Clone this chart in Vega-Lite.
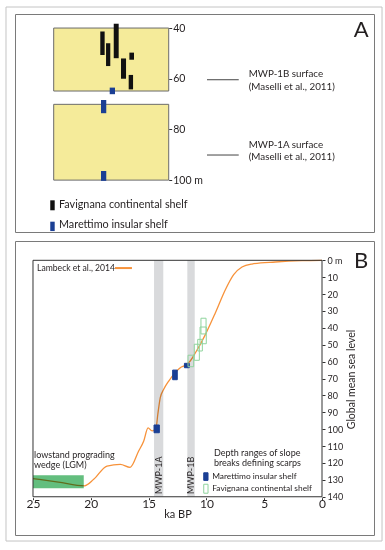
{
  "$schema": "https://vega.github.io/schema/vega-lite/v6.json",
  "background": "white",
  "padding": {"left": 4, "top": 6, "right": 0, "bottom": 0},
  "bounds": "flush",
  "spacing": 9,
  "config": {
    "view": {"stroke": "#7a7a7a", "strokeWidth": 1},
    "font": "Lato",
    "axis": {"grid": false, "labelFont": "Lato", "titleFont": "Lato", "labelColor": "#231f20", "titleColor": "#231f20", "tickColor": "#333333"}
  },
  "datasets": {
    "frame": [{"pos": -4.148, "pos2": 28.548, "depth": 31.7, "depth2": 242.39}],
    "boxesA": [
      {"pos": 0, "pos2": 10, "depth": 40, "depth2": 64.85},
      {"pos": 0, "pos2": 10, "depth": 70.1, "depth2": 100}
    ],
    "scarpsA": [
      {"shelf": "Favignana continental shelf", "pos": 4.05, "pos2": 4.43, "depth": 41.4, "depth2": 50.6},
      {"shelf": "Favignana continental shelf", "pos": 4.55, "pos2": 4.92, "depth": 46.0, "depth2": 55.0},
      {"shelf": "Favignana continental shelf", "pos": 5.22, "pos2": 5.65, "depth": 38.3, "depth2": 51.9},
      {"shelf": "Favignana continental shelf", "pos": 5.85, "pos2": 6.29, "depth": 52.0, "depth2": 60.0},
      {"shelf": "Favignana continental shelf", "pos": 6.58, "pos2": 6.98, "depth": 49.7, "depth2": 52.5},
      {"shelf": "Favignana continental shelf", "pos": 6.52, "pos2": 6.9, "depth": 58.5, "depth2": 64.2},
      {"shelf": "Marettimo insular shelf", "pos": 4.87, "pos2": 5.33, "depth": 63.5, "depth2": 66.1},
      {"shelf": "Marettimo insular shelf", "pos": 4.11, "pos2": 4.57, "depth": 68.4, "depth2": 73.6},
      {"shelf": "Marettimo insular shelf", "pos": 4.11, "pos2": 4.57, "depth": 96.4, "depth2": 100.3}
    ],
    "legendA": [
      {"shelf": "Favignana continental shelf", "pos": -0.3, "pos2": 0.087, "depth": 107.97, "depth2": 111.9, "lpos": 0.46, "ldepth": 109.8},
      {"shelf": "Marettimo insular shelf", "pos": -0.3, "pos2": 0.087, "depth": 116.4, "depth2": 120.1, "lpos": 0.46, "ldepth": 117.7}
    ],
    "surfacesA": [
      {"name": "MWP-1B", "pos": 13.33, "pos2": 16.09, "depth": 60.4},
      {"name": "MWP-1A", "pos": 13.33, "pos2": 16.09, "depth": 90.1}
    ],
    "notesA": [
      {"text": "MWP-1B surface", "pos": 16.96, "depth": 58.13},
      {"text": "(Maselli et al., 2011)", "pos": 16.96, "depth": 63.26},
      {"text": "MWP-1A surface", "pos": 16.96, "depth": 86.15},
      {"text": "(Maselli et al., 2011)", "pos": 16.96, "depth": 91.0}
    ],
    "letterA": [{"text": "A", "pos": 26.09, "depth": 43.53}],
    "bands": [
      {"label": "MWP-1A", "ka": 14.53, "ka2": 13.73, "depth": 0, "depth2": 140, "lka": 14.1, "ldepth": 138.4},
      {"label": "MWP-1B", "ka": 11.65, "ka2": 11.01, "depth": 0, "depth2": 140, "lka": 11.29, "ldepth": 138.4}
    ],
    "lambeck": [
      {"ka": 25.0, "depth": 129.2}, {"ka": 22.8, "depth": 131.3}, {"ka": 20.55, "depth": 133.5},
      {"ka": 19.75, "depth": 129.7}, {"ka": 18.6, "depth": 121.8}, {"ka": 17.45, "depth": 120.8},
      {"ka": 16.6, "depth": 122.6}, {"ka": 15.86, "depth": 112.9}, {"ka": 15.42, "depth": 107.0},
      {"ka": 15.05, "depth": 99.2}, {"ka": 14.7, "depth": 101.0}, {"ka": 14.35, "depth": 99.0},
      {"ka": 14.2, "depth": 91.0}, {"ka": 13.99, "depth": 81.3}, {"ka": 13.69, "depth": 76.4},
      {"ka": 13.26, "depth": 71.5}, {"ka": 12.69, "depth": 66.5}, {"ka": 12.26, "depth": 63.6},
      {"ka": 11.83, "depth": 62.2}, {"ka": 11.4, "depth": 59.6}, {"ka": 10.96, "depth": 54.9},
      {"ka": 10.09, "depth": 44.0}, {"ka": 9.23, "depth": 31.2}, {"ka": 8.36, "depth": 17.4},
      {"ka": 7.64, "depth": 8.5}, {"ka": 6.92, "depth": 4.0}, {"ka": 6.06, "depth": 2.2},
      {"ka": 4.04, "depth": 1.0}, {"ka": 1.73, "depth": 0.2}, {"ka": 0.0, "depth": 0.0}
    ],
    "wedge": [{"ka": 25, "ka2": 20.61, "depth": 127.3, "depth2": 135.0}],
    "scarpsB": [
      {"shelf": "Marettimo insular shelf", "ka": 14.53, "ka2": 14.07, "depth": 97.5, "depth2": 102.1},
      {"shelf": "Marettimo insular shelf", "ka": 12.92, "ka2": 12.52, "depth": 65.0, "depth2": 70.7},
      {"shelf": "Marettimo insular shelf", "ka": 11.9, "ka2": 11.48, "depth": 61.0, "depth2": 63.6},
      {"shelf": "Favignana continental shelf", "ka": 10.47, "ka2": 10.03, "depth": 34.3, "depth2": 43.6},
      {"shelf": "Favignana continental shelf", "ka": 10.55, "ka2": 10.01, "depth": 39.5, "depth2": 49.4},
      {"shelf": "Favignana continental shelf", "ka": 10.75, "ka2": 10.35, "depth": 46.8, "depth2": 53.7},
      {"shelf": "Favignana continental shelf", "ka": 11.05, "ka2": 10.61, "depth": 49.7, "depth2": 59.2},
      {"shelf": "Favignana continental shelf", "ka": 11.59, "ka2": 11.1, "depth": 56.2, "depth2": 63.0}
    ],
    "plotB": [{"ka": 25, "ka2": 0, "depth": 0, "depth2": 140}],
    "legendB": [
      {"shelf": "Marettimo insular shelf", "ka": 10.23, "ka2": 9.86, "depth": 125.8, "depth2": 130.3, "lka": 9.5, "ldepth": 127.7},
      {"shelf": "Favignana continental shelf", "ka": 10.23, "ka2": 9.86, "depth": 132.6, "depth2": 137.9, "lka": 9.5, "ldepth": 135.0}
    ],
    "lambeckKey": [{"text": "Lambeck et al., 2014", "ka": 24.65, "depth": 4.6, "lineStart": 17.91, "lineEnd": 16.44}],
    "notesB": [
      {"text": "lowstand prograding", "ka": 24.91, "depth": 115.3},
      {"text": "wedge (LGM)", "ka": 24.91, "depth": 121.4},
      {"text": "Depth ranges of slope", "ka": 9.35, "depth": 113.9},
      {"text": "breaks defining scarps", "ka": 9.35, "depth": 120.2}
    ],
    "letterB": [{"text": "B", "ka": -2.77, "depth": 4.4}]
  },
  "vconcat": [
    {
      "width": 359,
      "height": 218,
      "encoding": {
        "x": {"field": "pos", "type": "quantitative", "scale": {"domain": [-3.365, 27.85], "nice": false, "zero": false}, "axis": null},
        "y": {"field": "depth", "type": "quantitative", "scale": {"domain": [34.46, 120.47], "reverse": true, "nice": false, "zero": false},
          "axis": {"orient": "right", "offset": -205.3, "values": [40, 60, 80, 100], "labelExpr": "datum.value == 100 ? '100 m' : datum.label", "domain": false, "tickSize": 3, "labelPadding": 1, "labelFontSize": 10.5, "title": null}}
      },
      "layer": [
        {"data": {"name": "frame"}, "mark": {"type": "rect", "fill": null, "stroke": "#c4c4c4", "strokeWidth": 1}, "encoding": {"x2": {"field": "pos2"}, "y2": {"field": "depth2"}}},
        {"data": {"name": "boxesA"}, "mark": {"type": "rect", "fill": "#f5eb9a", "stroke": "#6b6b6b", "strokeWidth": 1}, "encoding": {"x2": {"field": "pos2"}, "y2": {"field": "depth2"}}},
        {"data": {"name": "scarpsA"}, "mark": {"type": "rect"}, "encoding": {"x2": {"field": "pos2"}, "y2": {"field": "depth2"},
          "color": {"field": "shelf", "type": "nominal", "scale": {"domain": ["Favignana continental shelf", "Marettimo insular shelf"], "range": ["#111111", "#1b3f94"]}, "legend": null}}},
        {"data": {"name": "surfacesA"}, "mark": {"type": "rule", "stroke": "#444444", "strokeWidth": 1}, "encoding": {"x2": {"field": "pos2"}}},
        {"data": {"name": "notesA"}, "mark": {"type": "text", "align": "left", "baseline": "middle", "fontSize": 9.8, "color": "#231f20"}, "encoding": {"text": {"field": "text"}}},
        {"data": {"name": "legendA"}, "mark": {"type": "rect"}, "encoding": {"x2": {"field": "pos2"}, "y2": {"field": "depth2"},
          "color": {"field": "shelf", "type": "nominal", "scale": {"domain": ["Favignana continental shelf", "Marettimo insular shelf"], "range": ["#111111", "#1b3f94"]}, "legend": null}}},
        {"data": {"name": "legendA"}, "mark": {"type": "text", "align": "left", "baseline": "middle", "fontSize": 10.8, "color": "#231f20"},
          "encoding": {"x": {"field": "lpos", "type": "quantitative"}, "y": {"field": "ldepth", "type": "quantitative"}, "text": {"field": "shelf"}}},
        {"data": {"name": "letterA"}, "mark": {"type": "text", "align": "left", "baseline": "alphabetic", "fontSize": 22, "color": "#231f20"}, "encoding": {"text": {"field": "text"}}}
      ]
    },
    {
      "width": 359,
      "height": 294,
      "encoding": {
        "x": {"field": "ka", "type": "quantitative", "scale": {"domain": [-4.498, 26.557], "reverse": true, "nice": false, "zero": false},
          "axis": {"orient": "bottom", "offset": -37.3, "values": [0, 5, 10, 15, 20, 25], "domain": false, "tickSize": 2, "labelPadding": -1, "labelFontSize": 12, "title": "ka BP", "titleFontSize": 11, "titleFontWeight": "normal", "titleX": 162.5, "titlePadding": -1}},
        "y": {"field": "depth", "type": "quantitative", "scale": {"domain": [-11.427, 162.64], "reverse": true, "nice": false, "zero": false},
          "axis": {"orient": "right", "offset": -52, "values": [0, 10, 20, 30, 40, 50, 60, 70, 80, 90, 100, 110, 120, 130, 140], "labelExpr": "datum.value == 0 ? '0 m' : datum.label", "domain": false, "tickSize": 3, "labelPadding": 2, "labelFontSize": 9, "title": "Global mean sea level", "titleAngle": 270, "titleFontSize": 10.5, "titleFontWeight": "normal", "titleY": 138, "titlePadding": 14}}
      },
      "layer": [
        {"data": {"name": "bands"}, "mark": {"type": "rect", "fill": "#d9dadc"}, "encoding": {"x2": {"field": "ka2"}, "y2": {"field": "depth2"}}},
        {"data": {"name": "wedge"}, "mark": {"type": "rect", "fill": "#63be7e"}, "encoding": {"x2": {"field": "ka2"}, "y2": {"field": "depth2"}}},
        {"data": {"name": "lambeck"}, "mark": {"type": "line", "stroke": "#f7923a", "strokeWidth": 1.3, "interpolate": "monotone", "blend": "multiply"}, "encoding": {}},
        {"data": {"name": "scarpsB"}, "mark": {"type": "rect", "strokeWidth": 1}, "encoding": {"x2": {"field": "ka2"}, "y2": {"field": "depth2"},
          "fill": {"field": "shelf", "type": "nominal", "scale": {"domain": ["Marettimo insular shelf", "Favignana continental shelf"], "range": ["#1b3f94", "transparent"]}, "legend": null},
          "stroke": {"field": "shelf", "type": "nominal", "scale": {"domain": ["Marettimo insular shelf", "Favignana continental shelf"], "range": ["#1b3f94", "#8fd49d"]}, "legend": null}}},
        {"data": {"name": "plotB"}, "mark": {"type": "rect", "fill": null, "stroke": "#333333", "strokeWidth": 1}, "encoding": {"x2": {"field": "ka2"}, "y2": {"field": "depth2"}}},
        {"data": {"name": "bands"}, "mark": {"type": "text", "angle": 270, "align": "left", "baseline": "middle", "fontSize": 9, "color": "#231f20"},
          "encoding": {"x": {"field": "lka", "type": "quantitative"}, "y": {"field": "ldepth", "type": "quantitative"}, "text": {"field": "label"}}},
        {"data": {"name": "lambeckKey"}, "mark": {"type": "text", "align": "left", "baseline": "middle", "fontSize": 8.6, "color": "#231f20"}, "encoding": {"text": {"field": "text"}}},
        {"data": {"name": "lambeckKey"}, "mark": {"type": "rule", "stroke": "#f7923a", "strokeWidth": 2}, "encoding": {"x": {"field": "lineStart", "type": "quantitative"}, "x2": {"field": "lineEnd"}}},
        {"data": {"name": "notesB"}, "mark": {"type": "text", "align": "left", "baseline": "middle", "fontSize": 9, "color": "#231f20"}, "encoding": {"text": {"field": "text"}}},
        {"data": {"name": "legendB"}, "mark": {"type": "rect", "strokeWidth": 1}, "encoding": {"x2": {"field": "ka2"}, "y2": {"field": "depth2"},
          "fill": {"field": "shelf", "type": "nominal", "scale": {"domain": ["Marettimo insular shelf", "Favignana continental shelf"], "range": ["#1b3f94", "transparent"]}, "legend": null},
          "stroke": {"field": "shelf", "type": "nominal", "scale": {"domain": ["Marettimo insular shelf", "Favignana continental shelf"], "range": ["#1b3f94", "#8fd49d"]}, "legend": null}}},
        {"data": {"name": "legendB"}, "mark": {"type": "text", "align": "left", "baseline": "middle", "fontSize": 8.4, "color": "#231f20"},
          "encoding": {"x": {"field": "lka", "type": "quantitative"}, "y": {"field": "ldepth", "type": "quantitative"}, "text": {"field": "shelf"}}},
        {"data": {"name": "letterB"}, "mark": {"type": "text", "align": "left", "baseline": "alphabetic", "fontSize": 22, "color": "#231f20"}, "encoding": {"text": {"field": "text"}}}
      ]
    }
  ]
}
